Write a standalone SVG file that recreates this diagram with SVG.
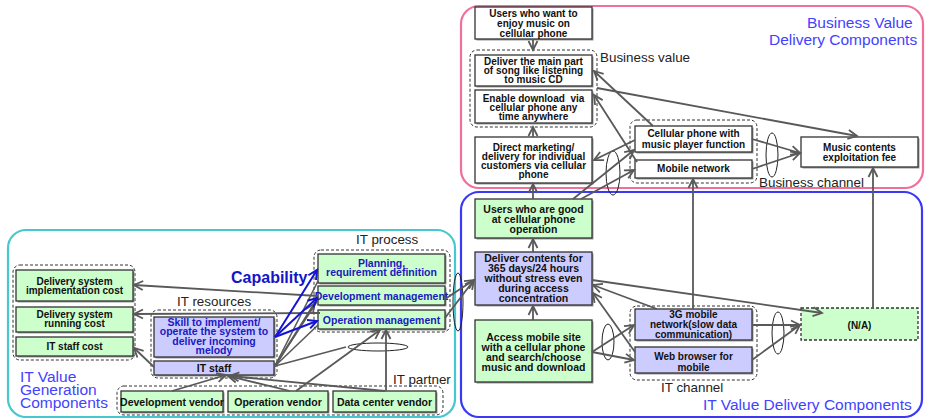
<svg xmlns="http://www.w3.org/2000/svg" width="927" height="420" viewBox="0 0 927 420">
  <style>
    .box { stroke: #333; stroke-width: 1.3; }
    .g { fill: #ccffcc; }
    .l { fill: #ccccff; }
    .w { fill: #ffffff; }
    .sh { fill: #9a9a9a; }
    .grp { fill: none; stroke: #333; stroke-width: 1; stroke-dasharray: 3 2; }
    .t { font-family: "Liberation Sans", Arial, sans-serif; font-weight: bold; font-size: 10px; text-anchor: middle; fill: #111; }
    .t2 { font-size: 10.5px; }
    .tb { fill: #1a1ac0; }
    .lbl { font-family: "Liberation Sans", Arial, sans-serif; font-size: 13.4px; fill: #222; }
    .ttl { font-family: "Liberation Sans", Arial, sans-serif; font-size: 15.5px; fill: #4242ff; }
    .cap { font-family: "Liberation Sans", Arial, sans-serif; font-size: 16px; font-weight: bold; fill: #1414c8; }
    .c { stroke: #595959; stroke-width: 1.8; fill: none; marker-end: url(#ah); }
    .cn { stroke: #595959; stroke-width: 1.6; fill: none; }
    .cb { stroke: #1414d2; stroke-width: 2; fill: none; marker-end: url(#ahb); }
    .el { fill: none; stroke: #222; stroke-width: 1; }
  </style>
  <defs>
    <marker id="ah" markerUnits="userSpaceOnUse" markerWidth="12" markerHeight="12" refX="9" refY="4.5" orient="auto" overflow="visible">
      <path d="M0,0 L9,4.5 L0,9" fill="none" stroke="#595959" stroke-width="1.8"/>
    </marker>
    <marker id="ahb" markerUnits="userSpaceOnUse" markerWidth="12" markerHeight="12" refX="9" refY="4.5" orient="auto" overflow="visible">
      <path d="M0,0 L9,4.5 L0,9" fill="none" stroke="#1414d2" stroke-width="2"/>
    </marker>
  </defs>
  <rect width="927" height="420" fill="#ffffff"/>

  <!-- component areas -->
  <g id="areas">
    <rect x="461" y="6" width="462" height="182" rx="18" fill="none" stroke="#f0709a" stroke-width="2.2"/>
    <rect x="461" y="192" width="461" height="225" rx="18" fill="none" stroke="#3a3af5" stroke-width="2.2"/>
    <rect x="8" y="230" width="447" height="187" rx="18" fill="none" stroke="#45c8cf" stroke-width="2.2"/>
    <text class="ttl" x="807" y="28">Business Value</text>
    <text class="ttl" x="769" y="45">Delivery Components</text>
    <text class="ttl" x="703" y="410">IT Value Delivery Components</text>
    <text class="ttl" x="20" y="382">IT Value</text>
    <text class="ttl" x="20" y="395">Generation</text>
    <text class="ttl" x="20" y="408">Components</text>
  </g>

  <!-- dashed groupings and their captions -->
  <g id="groups">
    <rect class="grp" x="470" y="50" width="127" height="77" rx="7"/>
    <text class="lbl" x="600" y="62">Business value</text>
    <rect class="grp" x="630" y="120" width="127" height="63" rx="7"/>
    <text class="lbl" x="759" y="187">Business channel</text>
    <rect class="grp" x="630" y="306" width="127" height="74" rx="7"/>
    <text class="lbl" x="661" y="392">IT channel</text>
    <rect class="grp" x="13" y="265" width="122" height="95" rx="7"/>
    <rect class="grp" x="151" y="310" width="126" height="68" rx="7"/>
    <text class="lbl" x="177" y="306">IT resources</text>
    <rect class="grp" x="314" y="250" width="136" height="82" rx="7"/>
    <text class="lbl" x="356" y="244">IT process</text>
    <rect class="grp" x="117" y="386" width="326" height="29" rx="7"/>
    <text class="lbl" x="393" y="384">IT partner</text>
    <text class="cap" x="231" y="283">Capability</text>
    <ellipse class="el" cx="613" cy="173" rx="7" ry="22"/>
    <ellipse class="el" cx="772" cy="155" rx="6" ry="22"/>
    <ellipse class="el" cx="608" cy="342" rx="6" ry="18"/>
    <ellipse class="el" cx="778" cy="333" rx="6" ry="21"/>
    <ellipse class="el" cx="458" cy="302" rx="5" ry="29"/>
    <ellipse class="el" cx="378" cy="347" rx="30" ry="4"/>
  </g>

  <!-- business value delivery -->
  <g id="users_want">
    <rect class="sh" x="476.5" y="8.5" width="117" height="32"/>
    <rect class="box w" x="475" y="7" width="117" height="32"/>
    <text class="t" x="533.5" y="17">Users who want to</text>
    <text class="t" x="533.5" y="27">enjoy music on</text>
    <text class="t" x="533.5" y="36.5">cellular phone</text>
  </g>
  <g id="deliver_main">
    <rect class="sh" x="476.5" y="56.5" width="117" height="31"/>
    <rect class="box w" x="475" y="55" width="117" height="31"/>
    <text class="t" x="533.5" y="64.5">Deliver the main part</text>
    <text class="t" x="533.5" y="73.5">of song like listening</text>
    <text class="t" x="533.5" y="82.5">to music CD</text>
  </g>
  <g id="enable_download">
    <rect class="sh" x="476.5" y="91.5" width="117" height="33"/>
    <rect class="box w" x="475" y="90" width="117" height="33"/>
    <text class="t" x="533.5" y="101.5" xml:space="preserve">Enable download  via</text>
    <text class="t" x="533.5" y="110.5">cellular phone any</text>
    <text class="t" x="533.5" y="119.5">time anywhere</text>
  </g>
  <g id="direct_marketing">
    <rect class="sh" x="476.5" y="138.5" width="117" height="46"/>
    <rect class="box w" x="475" y="137" width="117" height="46"/>
    <text class="t" x="533.5" y="150.5">Direct marketing/</text>
    <text class="t" x="533.5" y="159.5">delivery for individual</text>
    <text class="t" x="533.5" y="168.5">customers via cellular</text>
    <text class="t" x="533.5" y="177.5">phone</text>
  </g>
  <g id="cellular_phone">
    <rect class="sh" x="636.5" y="127.5" width="117" height="26"/>
    <rect class="box w" x="635" y="126" width="117" height="26"/>
    <text class="t" x="693.5" y="136.5">Cellular phone with</text>
    <text class="t" x="693.5" y="147.5">music player function</text>
  </g>
  <g id="mobile_network">
    <rect class="sh" x="636.5" y="161.5" width="117" height="18"/>
    <rect class="box w" x="635" y="160" width="117" height="18"/>
    <text class="t" x="693.5" y="172">Mobile network</text>
  </g>
  <g id="music_fee">
    <rect class="sh" x="802.5" y="138.5" width="117" height="30"/>
    <rect class="box w" x="801" y="137" width="117" height="30"/>
    <text class="t" x="859.5" y="150.5">Music contents</text>
    <text class="t" x="859.5" y="160.5">exploitation fee</text>
  </g>

  <!-- IT value delivery -->
  <g id="users_good">
    <rect class="sh" x="476.5" y="200.5" width="117" height="39"/>
    <rect class="box g" x="475" y="199" width="117" height="39"/>
    <text class="t t2" x="533.5" y="212.5">Users who are good</text>
    <text class="t t2" x="533.5" y="222.5">at cellular phone</text>
    <text class="t t2" x="533.5" y="232.5">operation</text>
  </g>
  <g id="deliver_contents">
    <rect class="sh" x="476.5" y="253.5" width="117" height="53"/>
    <rect class="box l" x="475" y="252" width="117" height="53"/>
    <text class="t t2" x="533.5" y="261.5">Deliver contents for</text>
    <text class="t t2" x="533.5" y="271.7">365 days/24 hours</text>
    <text class="t t2" x="533.5" y="282">without stress even</text>
    <text class="t t2" x="533.5" y="292.2">during access</text>
    <text class="t t2" x="533.5" y="302.4">concentration</text>
  </g>
  <g id="access_mobile">
    <rect class="sh" x="476.5" y="321.5" width="117" height="62"/>
    <rect class="box g" x="475" y="320" width="117" height="62"/>
    <text class="t t2" x="533.5" y="340.5">Access mobile site</text>
    <text class="t t2" x="533.5" y="350.5">with a cellular phone</text>
    <text class="t t2" x="533.5" y="360.5">and search/choose</text>
    <text class="t t2" x="533.5" y="370.5">music and download</text>
  </g>
  <g id="mobile_3g">
    <rect class="sh" x="636.5" y="310.5" width="117" height="31"/>
    <rect class="box l" x="635" y="309" width="117" height="31"/>
    <text class="t" x="693.5" y="317.5">3G mobile</text>
    <text class="t" x="693.5" y="327.5">network(slow data</text>
    <text class="t" x="693.5" y="337.5">communication)</text>
  </g>
  <g id="web_browser">
    <rect class="sh" x="636.5" y="348.5" width="117" height="26"/>
    <rect class="box l" x="635" y="347" width="117" height="26"/>
    <text class="t" x="693.5" y="359.5">Web browser for</text>
    <text class="t" x="693.5" y="370.5">mobile</text>
  </g>
  <g id="not_applicable">
    <rect class="g" x="801" y="308" width="117" height="32" stroke="#333" stroke-width="1.3" stroke-dasharray="3 2"/>
    <text class="t" x="859.5" y="328.5">(N/A)</text>
  </g>

  <!-- IT value generation -->
  <g id="impl_cost">
    <rect class="sh" x="17.5" y="271.5" width="117" height="31"/>
    <rect class="box g" x="16" y="270" width="117" height="31"/>
    <text class="t" x="74.5" y="284.5">Delivery system</text>
    <text class="t" x="74.5" y="293.5">implementation cost</text>
  </g>
  <g id="running_cost">
    <rect class="sh" x="17.5" y="308.5" width="117" height="25"/>
    <rect class="box g" x="16" y="307" width="117" height="25"/>
    <text class="t" x="74.5" y="317.5">Delivery system</text>
    <text class="t" x="74.5" y="326.5">running cost</text>
  </g>
  <g id="staff_cost">
    <rect class="sh" x="17.5" y="338.5" width="117" height="19"/>
    <rect class="box g" x="16" y="337" width="117" height="19"/>
    <text class="t" x="74.5" y="350">IT staff cost</text>
  </g>
  <g id="skill">
    <rect class="sh" x="155.5" y="318.5" width="120" height="40"/>
    <rect class="box l" x="154" y="317" width="120" height="40"/>
    <text class="t t2 tb" x="214" y="325.5">Skill to implement/</text>
    <text class="t t2 tb" x="214" y="335">operate the system to</text>
    <text class="t t2 tb" x="214" y="344.5">deliver incoming</text>
    <text class="t t2 tb" x="214" y="353.5">melody</text>
  </g>
  <g id="it_staff">
    <rect class="sh" x="155.5" y="362.5" width="120" height="14"/>
    <rect class="box l" x="154" y="361" width="120" height="14"/>
    <text class="t t2" x="214" y="371.5">IT staff</text>
  </g>
  <g id="planning">
    <rect class="sh" x="319.5" y="255.5" width="127" height="29"/>
    <rect class="box g" x="318" y="254" width="127" height="29"/>
    <text class="t t2 tb" x="381.5" y="267">Planning,</text>
    <text class="t t2 tb" x="381.5" y="276">requirement definition</text>
  </g>
  <g id="dev_management">
    <rect class="sh" x="319.5" y="287.5" width="127" height="19"/>
    <rect class="box g" x="318" y="286" width="127" height="19"/>
    <text class="t t2 tb" x="381.5" y="299.5">Development management</text>
  </g>
  <g id="op_management">
    <rect class="sh" x="319.5" y="311.5" width="127" height="19"/>
    <rect class="box g" x="318" y="310" width="127" height="19"/>
    <text class="t t2 tb" x="381.5" y="323.5">Operation management</text>
  </g>
  <g id="dev_vendor">
    <rect class="sh" x="122.5" y="392.5" width="102" height="21"/>
    <rect class="box g" x="121" y="391" width="102" height="21"/>
    <text class="t t2" x="172" y="405.5">Development vendor</text>
  </g>
  <g id="op_vendor">
    <rect class="sh" x="229.5" y="392.5" width="100" height="21"/>
    <rect class="box g" x="228" y="391" width="100" height="21"/>
    <text class="t t2" x="278" y="405.5">Operation vendor</text>
  </g>
  <g id="dc_vendor">
    <rect class="sh" x="334.5" y="392.5" width="103" height="21"/>
    <rect class="box g" x="333" y="391" width="103" height="21"/>
    <text class="t t2" x="384.5" y="405.5">Data center vendor</text>
  </g>

  <!-- connectors -->
  <g id="connectors">
    <path class="c" d="M533,39 L533,50"/>
    <path class="c" d="M533,137 L533,127"/>
    <path class="c" d="M533,199 L533,184"/>
    <path class="c" d="M653,126 L594,71"/>
    <path class="c" d="M637,162 L594,95"/>
    <path class="c" d="M635,140 L594,160"/>
    <path class="c" d="M597,88 L857,136"/>
    <path class="c" d="M752,139 L800,153"/>
    <path class="c" d="M752,169 L800,153"/>
    <path class="c" d="M693,309 L693,179"/>
    <path class="c" d="M873,308 L873,168"/>
    <path class="c" d="M573,199 L634,150"/>
    <path class="c" d="M581,199 L634,170"/>

    <path class="c" d="M533,252 L533,239"/>
    <path class="c" d="M533,320 L533,306"/>
    <path class="c" d="M592,352 L634,325"/>
    <path class="c" d="M592,352 L634,360"/>
    <path class="c" d="M657,309 L593,285"/>
    <path class="c" d="M635,352 L593,293"/>
    <path class="c" d="M592,280 L822,313"/>
    <path class="c" d="M752,325 L800,325"/>
    <path class="c" d="M752,360 L800,325"/>
    <path class="c" d="M445,299 L474,280"/>
    <path class="c" d="M445,318 L474,280"/>

    <path class="c" d="M318,296 L134,285"/>
    <path class="c" d="M320,313 L134,314"/>
    <path class="c" d="M154,367 L134,348"/>
    <path class="cn" d="M275,366 L318,281"/>
    <path class="cn" d="M275,366 L318,300"/>
    <path class="c" d="M275,366 L314,304"/>
    <path class="cn" d="M275,366 L318,325"/>
    <path class="cn" d="M275,366 L346,347"/>
    <path class="cb" d="M275,337 L317,270"/>
    <path class="cb" d="M275,337 L317,298"/>
    <path class="cb" d="M275,337 L317,321"/>

    <path class="c" d="M172,391 L226,375"/>
    <path class="c" d="M290,391 L228,376"/>
    <path class="c" d="M385,391 L230,376"/>
    <path class="c" d="M296,391 L380,330"/>
    <path class="c" d="M386,391 L386,330"/>
  </g>
</svg>
